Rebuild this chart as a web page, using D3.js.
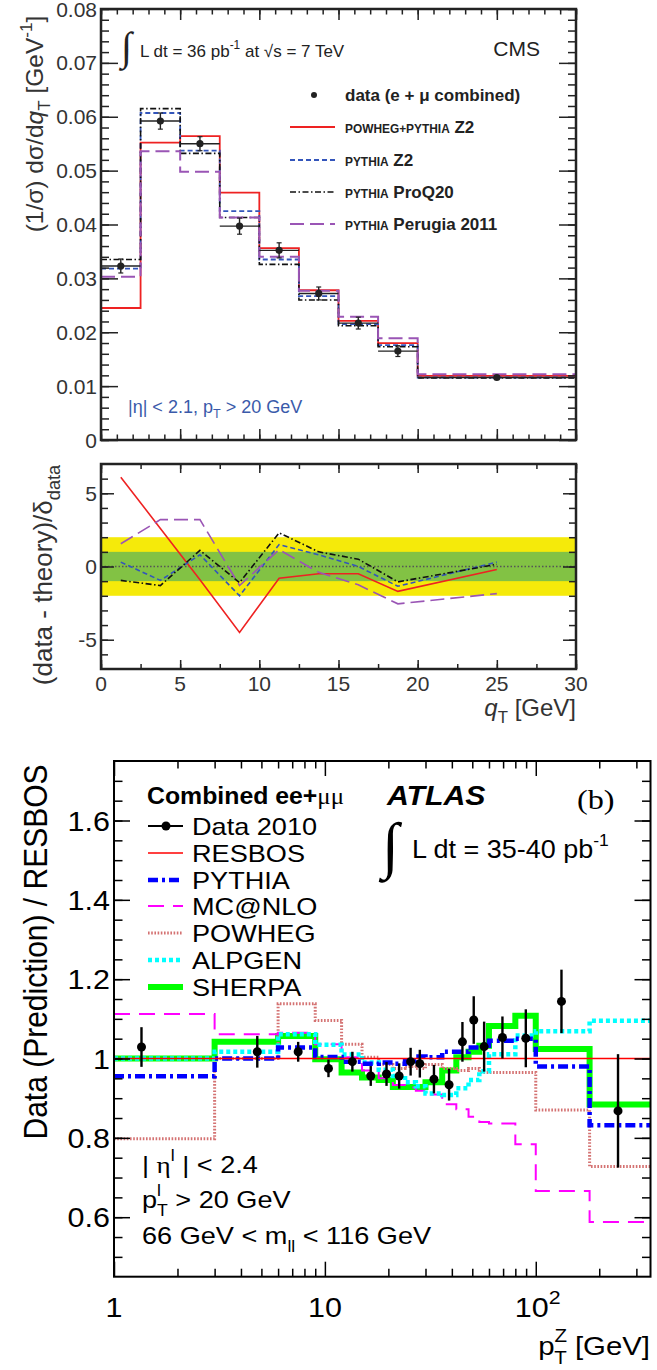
<!DOCTYPE html>
<html><head><meta charset="utf-8">
<script src="https://cdn.jsdelivr.net/npm/d3@7"></script>
<style>body{margin:0;background:#fff} svg{display:block}</style>
</head><body>
<svg id="c" width="657" height="1370"></svg>
<script>
// ================= DATA =================
// CMS panel (top)
const cmsEdges = [0, 2.5, 5, 7.5, 10, 12.5, 15, 17.5, 20, 30];
const cmsCenters = [1.25, 3.75, 6.25, 8.75, 11.25, 13.75, 16.25, 18.75, 25];
const cmsData = [0.0323, 0.0592, 0.0550, 0.0397, 0.0352, 0.0272, 0.0217, 0.0165, 0.0116];
const cmsDataErr = [0.0013, 0.0015, 0.0013, 0.0015, 0.0014, 0.0012, 0.0011, 0.0010, 0.0003];
const cmsPowheg = [0.0245, 0.0552, 0.0564, 0.0459, 0.0356, 0.0278, 0.0221, 0.0180, 0.0119];
const cmsPythiaZ2 = [0.0318, 0.0607, 0.0537, 0.0425, 0.0335, 0.0267, 0.0215, 0.0176, 0.0116];
const cmsProQ20 = [0.0335, 0.0615, 0.0532, 0.0413, 0.0326, 0.0260, 0.0212, 0.0173, 0.0115];
const cmsPerugia = [0.0303, 0.0536, 0.0498, 0.0413, 0.0340, 0.0277, 0.0229, 0.0189, 0.0122];
const cmsYTicks = [0, 0.01, 0.02, 0.03, 0.04, 0.05, 0.06, 0.07, 0.08];
const cmsYLabels = ['0', '0.01', '0.02', '0.03', '0.04', '0.05', '0.06', '0.07', '0.08'];
// CMS pulls (data - theory)/delta
const pullPowheg = [6.1, 2.6, -0.9, -4.5, -0.8, -0.5, -0.5, -1.7, -0.2];
const pullZ2 = [0.3, -0.95, 0.8, -2.0, 1.5, 0.8, 0.0, -1.35, 0.3];
const pullProQ20 = [-0.95, -1.3, 1.1, -1.1, 2.3, 1.0, 0.5, -1.05, 0.15];
const pullPerugia = [1.55, 3.2, 3.2, -1.3, 1.15, -0.4, -1.25, -2.55, -1.85];
const bandOuter = [-2, 2];
const bandInner = [-1, 1];
const pullYTicks = [-5, 0, 5];
const pullYLabels = ['-5', '0', '5'];
const qtTicks = [0, 5, 10, 15, 20, 25, 30];
const qtLabels = ['0', '5', '10', '15', '20', '25', '30'];

// ATLAS panel (bottom)
const atlasEdges = [1, 3, 6, 9, 12, 15, 18, 21, 24, 27, 30, 36, 42, 48, 54, 60, 80, 100, 180, 350];
const atlasDataX = [1.35, 4.78, 7.47, 10.4, 13.5, 16.5, 19.6, 22.5, 25.5, 28.2, 32.9, 38.8, 44.9, 50.8, 56.9, 69.5, 89.7, 132.4, 245.5];
const atlasData = [1.029, 1.017, 1.017, 0.975, 0.992, 0.956, 0.961, 0.956, 0.992, 0.987, 0.948, 0.934, 1.042, 1.097, 1.030, 1.053, 1.051, 1.144, 0.868];
const atlasErr = [0.050, 0.040, 0.025, 0.022, 0.025, 0.025, 0.030, 0.032, 0.035, 0.035, 0.036, 0.040, 0.050, 0.060, 0.063, 0.053, 0.073, 0.080, 0.143];
const resbos = [1, 1, 1, 1, 1, 1, 1, 1, 1, 1, 1, 1, 1, 1, 1, 1, 1, 1, 1];
const pythia = [0.955, 1.000, 1.028, 1.004, 0.992, 0.987, 0.990, 0.987, 0.994, 1.005, 1.003, 1.017, 1.017, 1.028, 1.032, 1.045, 1.050, 0.980, 0.832];
const mcnlo = [1.112, 1.061, 1.065, 1.036, 1.003, 0.970, 0.950, 0.933, 0.927, 0.919, 0.909, 0.885, 0.872, 0.853, 0.840, 0.836, 0.784, 0.666, 0.588];
const powheg = [0.798, 1.000, 1.138, 1.096, 1.036, 1.003, 0.985, 0.975, 0.980, 0.975, 0.985, 0.975, 0.970, 0.975, 0.965, 0.965, 0.965, 0.870, 0.728];
const alpgen = [1.000, 1.017, 1.061, 1.035, 1.010, 0.990, 0.972, 0.956, 0.940, 0.930, 0.912, 0.908, 0.925, 0.946, 0.968, 1.011, 1.058, 1.069, 1.095];
const sherpa = [1.000, 1.042, 1.057, 0.998, 0.965, 0.952, 0.946, 0.928, 0.928, 0.928, 0.940, 0.970, 1.003, 1.017, 1.032, 1.082, 1.108, 1.024, 0.884];
const atlasYTicks = [0.6, 0.8, 1.0, 1.2, 1.4, 1.6];
const atlasYLabels = ['0.6', '0.8', '1', '1.2', '1.4', '1.6'];
const atlasXTicks = [1, 10, 100];

// ================= HELPERS =================
const FONT = "'Liberation Sans', Arial, Helvetica, sans-serif";
const SERIF = "'Liberation Serif', 'DejaVu Serif', 'Times New Roman', serif";
const svg = d3.select('#c');

function rich(parent, x, y, segs, o = {}) {
  const size = o.size || 16;
  let tf = `translate(${x},${y})`;
  if (o.rotate) tf += ` rotate(${o.rotate})`;
  if (o.sx || o.sy) tf += ` scale(${o.sx || 1},${o.sy || 1})`;
  const t = parent.append('text')
    .attr('transform', tf)
    .attr('text-anchor', o.anchor || 'start')
    .attr('font-family', o.family || FONT)
    .attr('font-size', size)
    .attr('font-weight', o.weight || 'normal')
    .attr('font-style', o.style || 'normal')
    .attr('fill', o.fill || '#000');
  let cur = 0;
  segs.forEach(s => {
    if (typeof s === 'string') s = { t: s };
    const off = (s.dy || 0) * size;
    const ts = t.append('tspan').text(s.t).attr('dy', off - cur);
    cur = off;
    if (s.s) ts.attr('font-size', s.s * size);
    if (s.w) ts.attr('font-weight', s.w);
    if (s.i) ts.attr('font-style', 'italic');
    if (s.f) ts.attr('font-family', s.f);
    if (s.dx) ts.attr('dx', s.dx);
  });
  return t;
}

function ticks(parent, axisFn, scale, values, size, translate, color, w) {
  const a = axisFn(scale).tickValues(values).tickSize(size).tickFormat('');
  const g = parent.append('g').attr('transform', translate).call(a);
  g.select('.domain').remove();
  g.selectAll('line').attr('stroke', color || '#222').attr('stroke-width', w || 1.5);
  return g;
}

function stepPath(edges, vals, xs, ys) {
  const pts = vals.map((v, i) => [edges[i], v]);
  pts.push([edges[edges.length - 1], vals[vals.length - 1]]);
  return d3.line().x(d => xs(d[0])).y(d => ys(d[1])).curve(d3.curveStepAfter)(pts);
}

// ================= CMS TOP PANEL =================
const xC = d3.scaleLinear().domain([0, 30]).range([101, 576]);
const yC = d3.scaleLinear().domain([0, 0.08]).range([440, 9]);
const gC = svg.append('g');

const cmsSeries = [
  { v: cmsPowheg, c: '#ee2222', dash: null, w: 1.8 },
  { v: cmsPythiaZ2, c: '#3355bb', dash: '5,3', w: 1.8 },
  { v: cmsProQ20, c: '#111111', dash: '6,2.5,1.5,2.5', w: 1.6 },
  { v: cmsPerugia, c: '#9a55b5', dash: '14,6', w: 2 }
];
cmsSeries.forEach(s => {
  gC.append('path').attr('d', stepPath(cmsEdges, s.v, xC, yC))
    .attr('fill', 'none').attr('stroke', s.c).attr('stroke-width', s.w)
    .attr('stroke-dasharray', s.dash);
});
// data
cmsData.forEach((v, i) => {
  const cx = xC(cmsCenters[i]), cy = yC(v);
  gC.append('line').attr('x1', xC(cmsEdges[i])).attr('x2', xC(cmsEdges[i + 1]))
    .attr('y1', cy).attr('y2', cy).attr('stroke', '#222').attr('stroke-width', 1.4);
  const y1 = yC(v + cmsDataErr[i]), y2 = yC(v - cmsDataErr[i]);
  gC.append('line').attr('x1', cx).attr('x2', cx).attr('y1', y1).attr('y2', y2)
    .attr('stroke', '#222').attr('stroke-width', 1.4);
  [y1, y2].forEach(yy => gC.append('line').attr('x1', cx - 2.5).attr('x2', cx + 2.5)
    .attr('y1', yy).attr('y2', yy).attr('stroke', '#222').attr('stroke-width', 1.2));
  gC.append('circle').attr('cx', cx).attr('cy', cy).attr('r', 3.6).attr('fill', '#222');
});
// ticks
ticks(gC, d3.axisBottom, xC, d3.range(0, 31, 1), -5.5, 'translate(0,440)');
ticks(gC, d3.axisBottom, xC, qtTicks, -11, 'translate(0,440)');
ticks(gC, d3.axisTop, xC, d3.range(0, 31, 1), -5.5, 'translate(0,9)');
ticks(gC, d3.axisTop, xC, qtTicks, -11, 'translate(0,9)');
ticks(gC, d3.axisLeft, yC, d3.range(0, 0.0801, 0.002), -8, 'translate(101,0)');
ticks(gC, d3.axisLeft, yC, cmsYTicks, -17, 'translate(101,0)');
ticks(gC, d3.axisRight, yC, d3.range(0, 0.0801, 0.002), -8, 'translate(576,0)');
ticks(gC, d3.axisRight, yC, cmsYTicks, -17, 'translate(576,0)');
gC.append('rect').attr('x', 101).attr('y', 9).attr('width', 475).attr('height', 431)
  .attr('fill', 'none').attr('stroke', '#222').attr('stroke-width', 2.5);
cmsYTicks.forEach((v, i) => rich(gC, 97, yC(v) + 7.5, [cmsYLabels[i]], { size: 21, anchor: 'end', fill: '#333' }));
rich(gC, 43, 124, ['(1/σ) dσ/d', { t: 'q', i: true }, { t: 'T', s: 0.7, dy: 0.3 }, { t: ' [GeV', dy: 0 }, { t: '-1', s: 0.7, dy: -0.45 }, { t: ']', dy: 0 }],
  { size: 24.5, rotate: -90, anchor: 'middle', fill: '#333' });

// lumi text
rich(gC, 121, 60, ['∫'], { size: 40, family: SERIF, fill: '#222' });
rich(gC, 140, 57, ['L dt = 36 pb', { t: '-1', s: 0.7, dy: -0.45 }, { t: ' at ', dy: 0 }, '√s = 7 TeV'], { size: 17, fill: '#222' });
rich(gC, 540, 56, ['CMS'], { size: 21, anchor: 'end', fill: '#222' });

// legend
gC.append('circle').attr('cx', 314).attr('cy', 95).attr('r', 3).attr('fill', '#222');
rich(gC, 345, 101, ['data (e + μ combined)'], { size: 17, weight: 'bold', fill: '#222' });
const legC = [
  { y: 127, s: cmsSeries[0], segs: [{ t: 'POWHEG+PYTHIA', s: 0.7 }, ' Z2'] },
  { y: 160, s: cmsSeries[1], segs: [{ t: 'PYTHIA', s: 0.7 }, ' Z2'] },
  { y: 192, s: cmsSeries[2], segs: [{ t: 'PYTHIA', s: 0.7 }, ' ProQ20'] },
  { y: 224, s: cmsSeries[3], segs: [{ t: 'PYTHIA', s: 0.7 }, ' Perugia 2011'] }
];
legC.forEach(l => {
  gC.append('line').attr('x1', 290).attr('x2', 335).attr('y1', l.y).attr('y2', l.y)
    .attr('stroke', l.s.c).attr('stroke-width', l.s.w).attr('stroke-dasharray', l.s.dash);
  rich(gC, 345, l.y + 6, l.segs, { size: 17, weight: 'bold', fill: '#222' });
});
rich(gC, 128, 413, ['|η| < 2.1, p', { t: 'T', s: 0.7, dy: 0.3 }, { t: ' > 20 GeV', dy: 0 }], { size: 18, fill: '#3a5aaa' });

// ================= CMS RATIO PANEL =================
const yR = d3.scaleLinear().domain([-7, 7]).range([669, 464]);
const gR = svg.append('g');
gR.append('rect').attr('x', xC(0)).attr('width', xC(30) - xC(0))
  .attr('y', yR(bandOuter[1])).attr('height', yR(bandOuter[0]) - yR(bandOuter[1])).attr('fill', '#f5ea0a');
gR.append('rect').attr('x', xC(0)).attr('width', xC(30) - xC(0))
  .attr('y', yR(bandInner[1])).attr('height', yR(bandInner[0]) - yR(bandInner[1])).attr('fill', '#82c244');
gR.append('line').attr('x1', xC(0)).attr('x2', xC(30)).attr('y1', yR(0)).attr('y2', yR(0))
  .attr('stroke', '#555').attr('stroke-width', 1.3).attr('stroke-dasharray', '1.5,2');
const pulls = [
  { v: pullPowheg, s: cmsSeries[0] }, { v: pullZ2, s: cmsSeries[1] },
  { v: pullProQ20, s: cmsSeries[2] }, { v: pullPerugia, s: cmsSeries[3] }
];
pulls.forEach(p => {
  gR.append('path').attr('d', d3.line().x((d, i) => xC(cmsCenters[i])).y(d => yR(d))(p.v))
    .attr('fill', 'none').attr('stroke', p.s.c).attr('stroke-width', 1.6).attr('stroke-dasharray', p.s.dash);
});
ticks(gR, d3.axisBottom, xC, d3.range(0, 30.1, 2.5), -5, 'translate(0,669)');
ticks(gR, d3.axisBottom, xC, qtTicks, -9, 'translate(0,669)');
ticks(gR, d3.axisTop, xC, d3.range(0, 30.1, 2.5), -5, 'translate(0,464)');
ticks(gR, d3.axisTop, xC, qtTicks, -9, 'translate(0,464)');
ticks(gR, d3.axisLeft, yR, d3.range(-6, 7, 1), -7, 'translate(101,0)');
ticks(gR, d3.axisLeft, yR, pullYTicks, -13, 'translate(101,0)');
ticks(gR, d3.axisRight, yR, d3.range(-6, 7, 1), -7, 'translate(576,0)');
ticks(gR, d3.axisRight, yR, pullYTicks, -13, 'translate(576,0)');
gR.append('rect').attr('x', 101).attr('y', 464).attr('width', 475).attr('height', 205)
  .attr('fill', 'none').attr('stroke', '#222').attr('stroke-width', 2.5);
pullYTicks.forEach((v, i) => rich(gR, 97, yR(v) + 7.5, [pullYLabels[i]], { size: 21, anchor: 'end', fill: '#333' }));
qtTicks.forEach((v, i) => rich(gR, xC(v), 691, [qtLabels[i]], { size: 21, anchor: 'middle', fill: '#333' }));
rich(gR, 576, 716, [{ t: 'q', i: true }, { t: 'T', s: 0.7, dy: 0.3 }, { t: ' [GeV]', dy: 0 }], { size: 24, anchor: 'end', fill: '#333' });
rich(gR, 52, 575, ['(data - theory)/δ', { t: 'data', s: 0.7, dy: 0.3 }], { size: 26, rotate: -90, anchor: 'middle', fill: '#333' });

// ================= ATLAS PANEL =================
const xA = d3.scaleLog().domain([1, 350]).range([114, 650.5]);
const yA = d3.scaleLinear().domain([0.45, 1.75]).range([1276.7, 761]);
const gA = svg.append('g');
const SX = 1.13;
const st = {
  resbos: { c: '#ff0000', w: 1.6, dash: null },
  pythia: { c: '#0000ff', w: 4.5, dash: '10,4,3,4' },
  mcnlo: { c: '#ff00ff', w: 2, dash: '16,9' },
  powheg: { c: '#d47272', w: 3, dash: '1.6,1.6' },
  alpgen: { c: '#00ffff', w: 4.5, dash: '4,3' },
  sherpa: { c: '#00ff00', w: 6, dash: null }
};
const drawOrder = [
  [sherpa, st.sherpa], [powheg, st.powheg], [mcnlo, st.mcnlo],
  [alpgen, st.alpgen], [pythia, st.pythia], [resbos, st.resbos]
];
drawOrder.forEach(([v, s]) => {
  gA.append('path').attr('d', stepPath(atlasEdges, v, xA, yA))
    .attr('fill', 'none').attr('stroke', s.c).attr('stroke-width', s.w).attr('stroke-dasharray', s.dash);
});
atlasData.forEach((v, i) => {
  const cx = xA(atlasDataX[i]);
  gA.append('line').attr('x1', cx).attr('x2', cx).attr('y1', yA(v + atlasErr[i])).attr('y2', yA(v - atlasErr[i]))
    .attr('stroke', '#000').attr('stroke-width', 2.4);
  gA.append('circle').attr('cx', cx).attr('cy', yA(v)).attr('r', 4.5).attr('fill', '#000');
});
// ticks
const minorX = [2, 3, 4, 5, 6, 7, 8, 9, 20, 30, 40, 50, 60, 70, 80, 90, 200, 300];
ticks(gA, d3.axisBottom, xA, minorX, -8, 'translate(0,1276.7)', '#000', 1.5);
ticks(gA, d3.axisBottom, xA, atlasXTicks, -15, 'translate(0,1276.7)', '#000', 1.5);
ticks(gA, d3.axisTop, xA, minorX, -7.5, 'translate(0,761)', '#000', 1.5);
ticks(gA, d3.axisTop, xA, atlasXTicks, -15, 'translate(0,761)', '#000', 1.5);
const minorY = d3.range(0.5, 1.749, 0.05);
ticks(gA, d3.axisLeft, yA, minorY, -8.5, 'translate(114,0)', '#000', 1.5);
ticks(gA, d3.axisLeft, yA, atlasYTicks, -16, 'translate(114,0)', '#000', 1.5);
ticks(gA, d3.axisRight, yA, minorY, -8.5, 'translate(650.5,0)', '#000', 1.5);
ticks(gA, d3.axisRight, yA, atlasYTicks, -16, 'translate(650.5,0)', '#000', 1.5);
gA.append('rect').attr('x', 114).attr('y', 761).attr('width', 536.5).attr('height', 515.7)
  .attr('fill', 'none').attr('stroke', '#000').attr('stroke-width', 2);
atlasYTicks.forEach((v, i) => rich(gA, 110, yA(v) + 10, [atlasYLabels[i]], { size: 27, anchor: 'end', sx: SX }));
rich(gA, xA(1), 1317, ['1'], { size: 27, anchor: 'middle', sx: SX });
rich(gA, xA(10), 1317, ['10'], { size: 27, anchor: 'middle', sx: SX });
rich(gA, xA(100) + 2, 1317, ['10', { t: '2', s: 0.7, dy: -0.5 }], { size: 27, anchor: 'middle', sx: SX });
rich(gA, 650, 1355, ['p', { t: 'Z', s: 0.7, dy: -0.5 }, { t: 'T', s: 0.7, dy: 0.35, dx: -11.5 }, { t: ' [GeV]', dy: 0 }], { size: 26, anchor: 'end', sx: SX });
rich(gA, 47, 952, ['Data (Prediction) / RESBOS'], { size: 30, rotate: -90, anchor: 'middle', sy: SX });

// ATLAS legend
rich(gA, 147, 804, ['Combined ee+', { t: 'μμ', f: SERIF, w: 'normal' }], { size: 23, weight: 'bold', sx: 1.08 });
const legA = [
  { y: 826, t: 'Data 2010', s: null },
  { y: 853, t: 'RESBOS', s: st.resbos },
  { y: 880, t: 'PYTHIA', s: st.pythia },
  { y: 906, t: 'MC@NLO', s: st.mcnlo },
  { y: 933, t: 'POWHEG', s: st.powheg },
  { y: 960, t: 'ALPGEN', s: st.alpgen },
  { y: 987, t: 'SHERPA', s: st.sherpa }
];
legA.forEach(l => {
  if (l.s) {
    gA.append('line').attr('x1', 148).attr('x2', 183).attr('y1', l.y).attr('y2', l.y)
      .attr('stroke', l.s.c).attr('stroke-width', l.s.w).attr('stroke-dasharray', l.s.dash);
  } else {
    gA.append('line').attr('x1', 148).attr('x2', 183).attr('y1', l.y).attr('y2', l.y)
      .attr('stroke', '#000').attr('stroke-width', 2);
    gA.append('circle').attr('cx', 166).attr('cy', l.y).attr('r', 4.5).attr('fill', '#000');
  }
  rich(gA, 192, l.y + 8.5, [l.t], { size: 24, sx: SX });
});
rich(gA, 387, 805, ['ATLAS'], { size: 28, weight: 'bold', style: 'italic', sx: 1.08 });
rich(gA, 577, 809, ['(b)'], { size: 28, family: SERIF, sx: 1.15 });
rich(gA, 382, 866, ['∫'], { size: 62, family: SERIF });
rich(gA, 412, 858, ['L dt = 35-40 pb', { t: '-1', s: 0.65, dy: -0.5 }], { size: 25, sx: 1.08 });
rich(gA, 142, 1173, ['| ', { t: 'η', f: SERIF }, { t: 'l', s: 0.65, dy: -0.5 }, { t: ' | < 2.4', dy: 0 }], { size: 24, sx: SX });
rich(gA, 142, 1208, ['p', { t: 'l', s: 0.65, dy: -0.5 }, { t: 'T', s: 0.65, dy: 0.35, dx: -3.5 }, { t: ' > 20 GeV', dy: 0 }], { size: 24, sx: SX });
rich(gA, 142, 1244, ['66 GeV < m', { t: 'll', s: 0.65, dy: 0.35 }, { t: ' < 116 GeV', dy: 0 }], { size: 24, sx: SX });
</script></body></html>
